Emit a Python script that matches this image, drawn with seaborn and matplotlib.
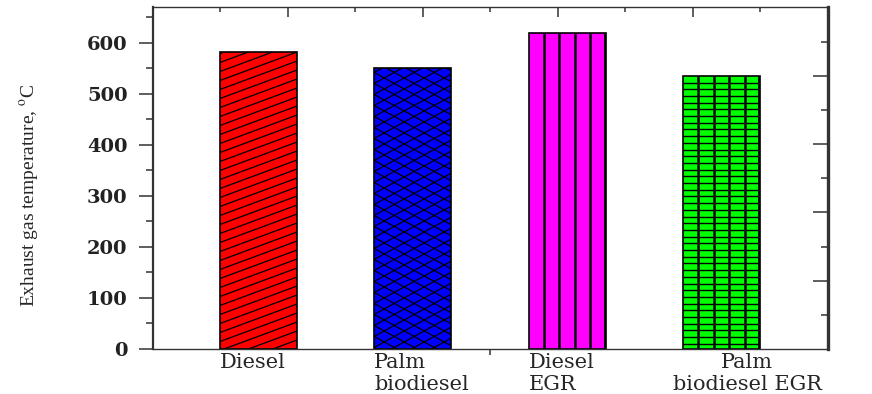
import numpy as np
import pandas as pd
import matplotlib
matplotlib.use("Agg")
import matplotlib.pyplot as plt
from matplotlib.collections import LineCollection
from matplotlib.transforms import IdentityTransform
from matplotlib.ticker import MultipleLocator
import seaborn as sns

# Exhaust gas temperature for each fuel / EGR configuration
categories = ["Diesel", "Palm biodiesel", "Diesel EGR", "Palm biodiesel EGR"]
tick_labels = ["Diesel", "Palm\nbiodiesel", "Diesel\nEGR", "Palm\nbiodiesel EGR"]
egt_values = [581, 551, 618, 535]
bar_colors = ["#ff0000", "#0000ff", "#ff00ff", "#00ff00"]

# hatch families per bar: ("slant", slope, spacing_px), ("vert", n_cells), ("horiz", spacing_px)
hatch_styles = {
    "Diesel": [("slant", 0.37, 9.0)],
    "Palm biodiesel": [("slant", 0.55, 11.0), ("slant", -0.55, 11.0)],
    "Diesel EGR": [("vert", 5)],
    "Palm biodiesel EGR": [("vert", 5), ("horiz", 6.7)],
}

sns.set_theme(style="white")
plt.rcParams["font.family"] = ["DejaVu Serif"]
plt.rcParams["mathtext.fontset"] = "stix"

fig = plt.figure(figsize=(8.72, 3.94), dpi=100)
ax = fig.add_axes([0.175, 0.1142, 0.7745, 0.867])

df = pd.DataFrame({"fuel": categories, "egt": egt_values})
sns.barplot(data=df, x="fuel", y="egt", hue="fuel", palette=bar_colors,
            width=0.5, saturation=1, edgecolor="black", linewidth=1.2,
            legend=False, ax=ax)

xmin, xmax = -0.686, 3.69
ymax = 669
ax.set_xlim(xmin, xmax)
ax.set_ylim(0, ymax)

spine_col = "#333333"
for side, lw in [("left", 1.6), ("bottom", 1.0), ("top", 1.0), ("right", 2.4)]:
    ax.spines[side].set_visible(True)
    ax.spines[side].set_color(spine_col)
    ax.spines[side].set_linewidth(lw)

# y axis: outward major/minor ticks
ax.yaxis.set_major_locator(MultipleLocator(100))
ax.yaxis.set_minor_locator(MultipleLocator(50))
ax.tick_params(axis="y", which="major", left=True, right=False, direction="out",
               length=10, width=1.1, color=spine_col, pad=8, labelsize=14)
ax.tick_params(axis="y", which="minor", left=True, right=False, direction="out",
               length=5, width=1.1, color=spine_col)
for lab in ax.get_yticklabels():
    lab.set_fontweight("bold")
    lab.set_color("#222222")

# x axis: category labels start at the left edge of each bar
label_offsets = np.array([0.0, 0.0, 0.0, -0.065])
ax.set_xticks(np.arange(len(categories)) - 0.25 + label_offsets)
ax.set_xticklabels(tick_labels, ha="left", multialignment="left", fontsize=15)
ax.get_xticklabels()[-1].set_multialignment("center")
ax.tick_params(axis="x", which="major", bottom=True, top=False, length=0, pad=3)
ax.set_xticks([1.5], minor=True)
ax.tick_params(axis="x", which="minor", bottom=True, top=False, direction="out",
               length=4.5, width=1.1, color=spine_col)
ax.set_xlabel("")

ax.set_ylabel("Exhaust gas temperature, $^{\\mathrm{o}}$C",
              fontfamily="Liberation Serif", fontsize=14)
ax.yaxis.set_label_coords(-0.165, 0.45)

# top and right frame ticks on a fractional scale
top = ax.secondary_xaxis("top", functions=(lambda x: (x - xmin) / (xmax - xmin),
                                          lambda f: xmin + f * (xmax - xmin)))
top.set_xticks([0.2, 0.4, 0.6, 0.8])
top.set_xticks([0.1, 0.3, 0.5, 0.7, 0.9], minor=True)
top.tick_params(which="major", direction="in", length=7, width=1.1, color=spine_col,
                labeltop=False, top=True)
top.tick_params(which="minor", direction="in", length=3.5, width=1.1, color=spine_col, top=True)
top.spines["top"].set_visible(False)

right = ax.secondary_yaxis("right", functions=(lambda y: y / ymax, lambda f: f * ymax))
right.set_yticks([0.2, 0.4, 0.6, 0.8])
right.set_yticks([0.1, 0.3, 0.5, 0.7, 0.9], minor=True)
right.tick_params(which="major", direction="in", length=11, width=1.1, color=spine_col,
                  labelright=False, right=True)
right.tick_params(which="minor", direction="in", length=5, width=1.1, color=spine_col, right=True)
right.spines["right"].set_visible(False)

# hatching drawn in pixel space and clipped to each bar
fig.canvas.draw()
renderer = fig.canvas.get_renderer()
for patch in list(ax.patches):
    cx = patch.get_x() + patch.get_width() / 2
    idx = int(round(cx))
    if idx < 0 or idx >= len(categories):
        continue
    bb = patch.get_window_extent(renderer)
    x0, x1, y0, y1 = bb.x0, bb.x1, bb.y0, bb.y1
    segs, widths = [], []
    for spec in hatch_styles[categories[idx]]:
        kind = spec[0]
        if kind == "slant":
            slope, step = spec[1], spec[2]
            span = abs(slope) * (x1 - x0)
            c = y0 - span - step
            while c < y1 + span + step:
                segs.append([(x0, c), (x1, c + slope * (x1 - x0))])
                widths.append(0.9)
                c += step
        elif kind == "vert":
            n = spec[1]
            w = (x1 - x0) / n
            for k in range(1, n + 1):
                segs.append([(x0 + k * w, y0), (x0 + k * w, y1)])
                widths.append(3.5 if k == n else 1.8)
        elif kind == "horiz":
            step = spec[1]
            yy = y1 - step
            while yy > y0:
                segs.append([(x0, yy), (x1, yy)])
                widths.append(1.0)
                yy -= step
    lc = LineCollection(segs, colors="black", linewidths=widths,
                        transform=IdentityTransform(), zorder=patch.get_zorder() + 0.1)
    ax.add_collection(lc, autolim=False)
    lc.set_clip_path(patch)

fig.savefig("out.png", dpi=100)
